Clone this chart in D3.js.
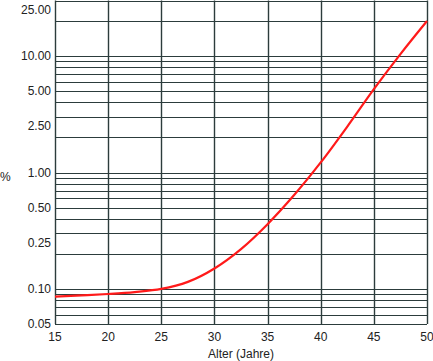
<!DOCTYPE html>
<html>
<head>
<meta charset="utf-8">
<script src="https://cdn.jsdelivr.net/npm/d3@7"></script>
<style>
  body { margin: 0; background: #fff; }
  text { font-family: "Liberation Sans", Arial, sans-serif; fill: #222; }
</style>
</head>
<body>
<div id="chart"></div>
<script>
const margin = { top: 0, right: 6, bottom: 37, left: 55 };
const width = 433, height = 361;

// Data
const ages = [15, 17.5, 20, 22.5, 25, 27.5, 30, 32.5, 35, 37.5, 40, 42.5, 45, 47.5, 50];
const percent = [0.086, 0.088, 0.0905, 0.094, 0.1, 0.115, 0.15, 0.22, 0.36, 0.64, 1.22, 2.48, 5.2, 10.4, 20];
const xTicks = [15, 20, 25, 30, 35, 40, 45, 50];
const yLabels = [0.05, 0.1, 0.25, 0.5, 1, 2.5, 5, 10, 25];
const yGrid = [0.05, 0.06, 0.07, 0.08, 0.09, 0.1, 0.2, 0.3, 0.4, 0.5, 0.6, 0.7, 0.8, 0.9,
  1, 2, 3, 4, 5, 6, 7, 8, 9, 10, 20, 30];

const gridColor = "#2c3c3c";
const lineColor = "#ff1a1a";

const svg = d3.select("#chart").append("svg")
  .attr("width", width)
  .attr("height", height);

const x = d3.scaleLinear()
  .domain([15, 50])
  .range([margin.left, width - margin.right]);

const y = d3.scaleLog()
  .domain([0.05, 30])
  .range([height - margin.bottom, margin.top + 0.5]);

// horizontal grid
svg.append("g")
  .selectAll("line")
  .data(yGrid)
  .join("line")
  .attr("x1", x(15))
  .attr("x2", x(50))
  .attr("y1", d => Math.round(y(d)) + 0.5)
  .attr("y2", d => Math.round(y(d)) + 0.5)
  .attr("stroke", gridColor)
  .attr("stroke-width", 1.2);

// vertical grid
svg.append("g")
  .selectAll("line")
  .data(xTicks)
  .join("line")
  .attr("x1", d => Math.round(x(d)) + 0.5)
  .attr("x2", d => Math.round(x(d)) + 0.5)
  .attr("y1", y(30))
  .attr("y2", y(0.05))
  .attr("stroke", gridColor)
  .attr("stroke-width", 1.4);

// y labels
svg.append("g")
  .selectAll("text")
  .data(yLabels)
  .join("text")
  .attr("x", margin.left - 4)
  .attr("y", d => y(d))
  .attr("dy", "0.35em")
  .attr("text-anchor", "end")
  .attr("font-size", 12)
  .text(d => d3.format(".2f")(d));

// x labels
svg.append("g")
  .selectAll("text")
  .data(xTicks)
  .join("text")
  .attr("x", d => x(d))
  .attr("y", y(0.05) + 17)
  .attr("text-anchor", "middle")
  .attr("font-size", 12)
  .text(d => d);

svg.append("text")
  .attr("x", (x(15) + x(50)) / 2)
  .attr("y", height - 3)
  .attr("text-anchor", "middle")
  .attr("font-size", 12)
  .text("Alter (Jahre)");

svg.append("text")
  .attr("x", 0)
  .attr("y", y(1) + 8)
  .attr("font-size", 12)
  .text("%");

// curve
const line = d3.line()
  .x((d, i) => x(ages[i]))
  .y(d => y(d))
  .curve(d3.curveCatmullRom.alpha(0.5));

svg.append("path")
  .datum(percent)
  .attr("d", line)
  .attr("fill", "none")
  .attr("stroke", lineColor)
  .attr("stroke-width", 2.2);
</script>
</body>
</html>
